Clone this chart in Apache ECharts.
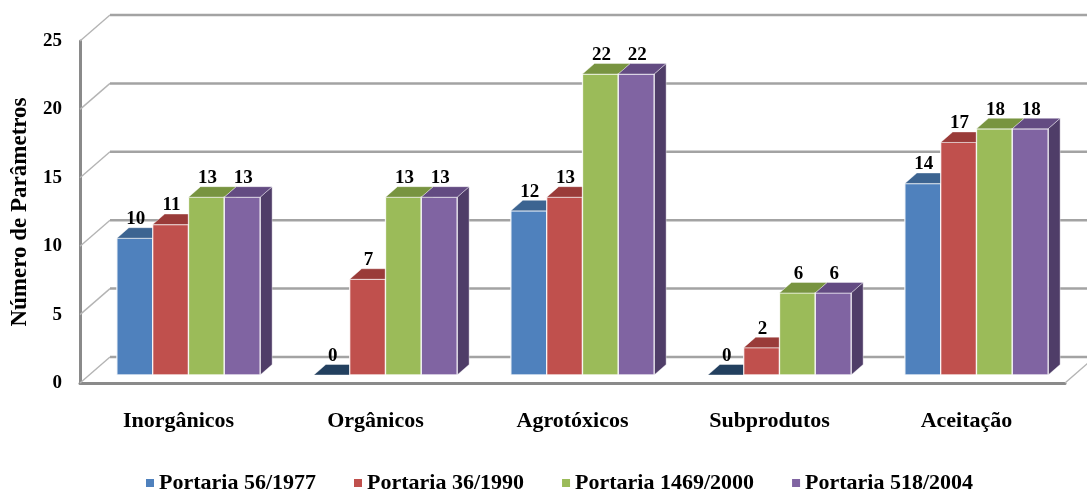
<!DOCTYPE html>
<html>
<head>
<meta charset="utf-8">
<script src="https://cdn.jsdelivr.net/npm/echarts@6/dist/echarts.min.js"></script>
<style>
  html, body { margin: 0; padding: 0; background: #ffffff; }
  #chart { width: 1087px; height: 490px; }
</style>
</head>
<body>
<div id="chart"></div>
<script>
// Number of parameters per group, for each Portaria
const categories = ['Inorgânicos', 'Orgânicos', 'Agrotóxicos', 'Subprodutos', 'Aceitação'];
const seriesNames = ['Portaria 56/1977', 'Portaria 36/1990', 'Portaria 1469/2000', 'Portaria 518/2004'];
const portaria1977 = [10, 0, 12, 0, 14];
const portaria1990 = [11, 7, 13, 2, 17];
const portaria2000 = [13, 13, 22, 6, 18];
const portaria2004 = [13, 13, 22, 6, 18];
const yTicks = [0, 5, 10, 15, 20, 25];
const yAxisTitle = 'Número de Parâmetros';

const seriesValues = [portaria1977, portaria1990, portaria2000, portaria2004];

// Styling
const FONT = "'Liberation Serif', 'Times New Roman', serif";
const palette = [
  { front: '#4F81BD', top: '#3C6491', side: '#2E4D72', zero: '#23405F' },
  { front: '#C0504D', top: '#9A3B39', side: '#7A2E2C', zero: '#6E2725' },
  { front: '#9BBB59', top: '#789440', side: '#5E7532', zero: '#56692C' },
  { front: '#8064A2', top: '#634B82', side: '#4F3D68', zero: '#47375E' }
];
const WALL_DEPTH = { x: 30, y: -26 };   // offset from front plane to back wall
const BAR_OFFSET = { x: 10, y: -8 };    // bars sit a little behind the front plane
const BAR_DEPTH = { x: 12, y: -10.5 };  // depth of each 3D bar
const BAR_FRACTION = 0.1818;            // bar front width as a share of the category band
const AXIS_GRAY = '#8a8a8a';
const GRID_GRAY = '#a3a3a3';

const chart = echarts.init(document.getElementById('chart'), null, { renderer: 'canvas' });

// Walls and gridlines of the 3D box
function renderWall(params, api) {
  const v = api.value(1);
  const cs = params.coordSys;
  const y = api.coord([0, v])[1];
  const xl = cs.x;
  const xr = cs.x + cs.width;
  const children = [
    {
      type: 'line',
      shape: { x1: xl, y1: y, x2: xl + WALL_DEPTH.x, y2: y + WALL_DEPTH.y },
      style: { stroke: '#b4b4b4', lineWidth: 1.4 }
    },
    {
      type: 'line',
      shape: { x1: xl + WALL_DEPTH.x, y1: y + WALL_DEPTH.y, x2: xr + WALL_DEPTH.x + 40, y2: y + WALL_DEPTH.y },
      style: { stroke: GRID_GRAY, lineWidth: 2.5 }
    }
  ];
  if (v === 0) {
    children.push({
      type: 'line',
      shape: { x1: xr, y1: y, x2: xr + WALL_DEPTH.x, y2: y + WALL_DEPTH.y },
      style: { stroke: '#b4b4b4', lineWidth: 1.4 }
    });
  }
  return { type: 'group', children: children };
}

// 3D bars: front face, right side face and top face, plus the value label
function barRenderer(k) {
  return function (params, api) {
    const i = api.value(0);
    const v = api.value(1);
    const band = api.size([1, 0])[0];
    const w = band * BAR_FRACTION;
    const base = api.coord([i, 0]);
    const topPt = api.coord([i, v]);
    const x0 = base[0] + BAR_OFFSET.x - 2 * w + k * w;
    const yb = base[1] + BAR_OFFSET.y;
    const yt = topPt[1] + BAR_OFFSET.y;
    const dx = BAR_DEPTH.x, dy = BAR_DEPTH.y;
    const c = palette[k];
    const children = [];
    if (v > 0) {
      children.push({
        type: 'polygon',
        shape: { points: [[x0 + w, yt], [x0 + w + dx, yt + dy], [x0 + w + dx, yb + dy], [x0 + w, yb]] },
        style: { fill: c.side, stroke: 'rgba(255,255,255,0.5)', lineWidth: 0.8 }
      });
      children.push({
        type: 'rect',
        shape: { x: x0, y: yt, width: w, height: yb - yt },
        style: { fill: c.front, stroke: 'rgba(255,255,255,0.85)', lineWidth: 1.3 }
      });
    }
    children.push({
      type: 'polygon',
      shape: { points: [[x0, yt], [x0 + w, yt], [x0 + w + dx, yt + dy], [x0 + dx, yt + dy]] },
      style: { fill: v > 0 ? c.top : c.zero, stroke: 'rgba(255,255,255,0.5)', lineWidth: 0.8 }
    });
    children.push({
      type: 'text',
      x: x0 + w / 2 + 1,
      y: yt + dy + 1,
      style: {
        text: String(v),
        align: 'center',
        verticalAlign: 'bottom',
        font: 'bold 19px ' + FONT,
        fill: '#000000'
      }
    });
    return { type: 'group', children: children };
  };
}

const series = [
  {
    type: 'custom',
    name: 'walls',
    renderItem: renderWall,
    data: yTicks.map(function (t) { return [0, t]; }),
    encode: { x: 0, y: 1 },
    silent: true,
    z: 1
  }
];
seriesValues.forEach(function (vals, k) {
  series.push({
    type: 'custom',
    name: seriesNames[k],
    renderItem: barRenderer(k),
    data: vals.map(function (v, i) { return [i, v]; }),
    encode: { x: 0, y: 1 },
    itemStyle: { color: palette[k].front },
    z: 2
  });
});

chart.setOption({
  animation: false,
  backgroundColor: '#ffffff',
  textStyle: { fontFamily: FONT },
  grid: { left: 80, right: 22, top: 41, bottom: 107, containLabel: false, outerBoundsMode: 'none' },
  legend: {
    data: seriesNames,
    icon: 'rect',
    itemWidth: 8,
    itemHeight: 8,
    itemGap: 38,
    left: 141,
    top: 467,
    textStyle: { fontFamily: FONT, fontWeight: 'bold', fontSize: 22, color: '#000000' }
  },
  xAxis: {
    type: 'category',
    data: categories,
    boundaryGap: true,
    axisLine: { show: true, lineStyle: { color: AXIS_GRAY, width: 3 } },
    axisTick: { show: false },
    splitLine: { show: false },
    axisLabel: { margin: 27, fontFamily: FONT, fontWeight: 'bold', fontSize: 22, color: '#000000' }
  },
  yAxis: {
    type: 'value',
    min: 0,
    max: 25,
    interval: 5,
    name: yAxisTitle,
    nameLocation: 'middle',
    nameRotate: 90,
    nameGap: 48,
    nameTextStyle: { fontFamily: FONT, fontWeight: 'bold', fontSize: 23, color: '#000000' },
    axisLine: { show: true, lineStyle: { color: AXIS_GRAY, width: 3 } },
    axisTick: { show: false },
    splitLine: { show: false },
    axisLabel: { margin: 18, fontFamily: FONT, fontWeight: 'bold', fontSize: 19, color: '#000000' }
  },
  series: series
});
</script>
</body>
</html>
